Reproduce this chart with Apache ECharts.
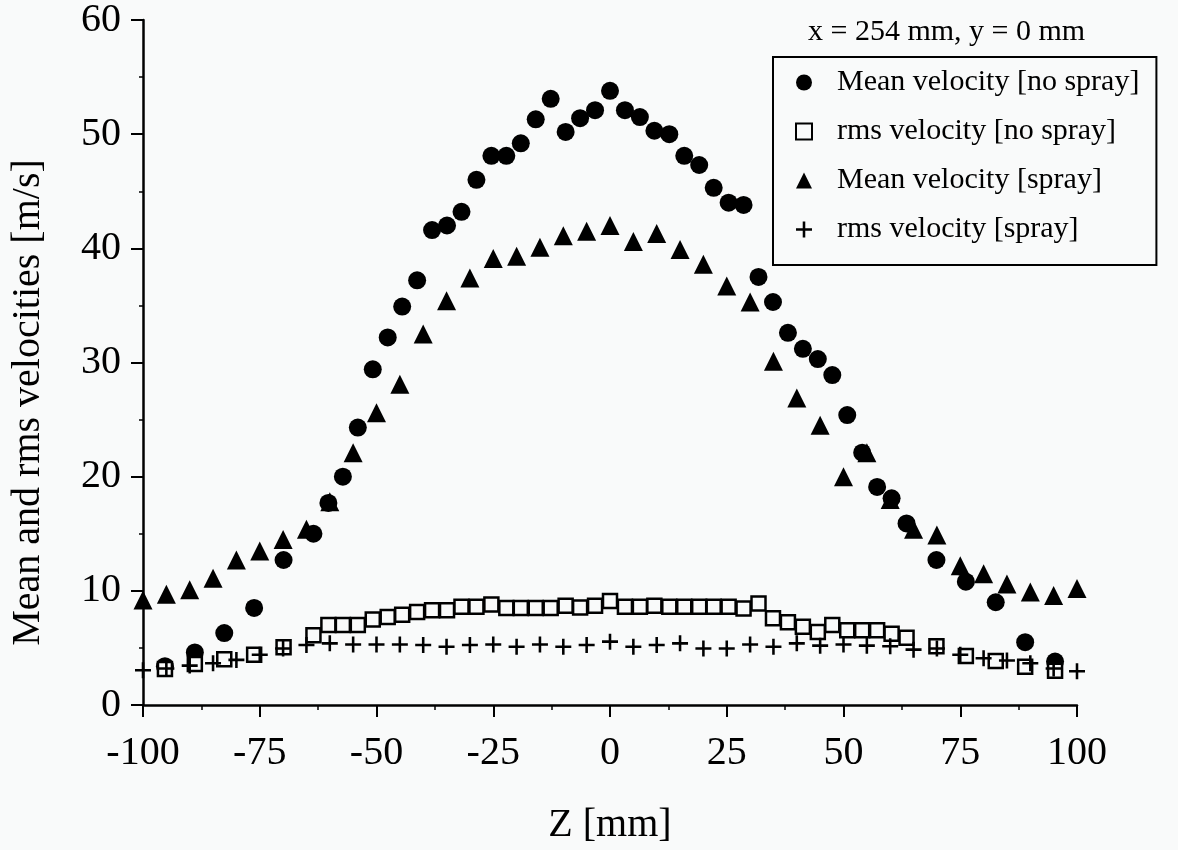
<!DOCTYPE html>
<html><head><meta charset="utf-8">
<script src="https://cdn.jsdelivr.net/npm/echarts@6/dist/echarts.min.js"></script>
<style>html,body{margin:0;padding:0;background:#f9fafa}#c{width:1178px;height:850px}</style>
</head><body><div id="c"></div>
<script>
// Z positions of the [no spray] measurements (mm)
const zNoSpray = [-95.3,-88.9,-82.6,-76.2,-69.9,-63.5,-60.3,-57.2,-54.0,-50.8,-47.6,-44.5,-41.3,-38.1,-34.9,-31.8,-28.6,-25.4,-22.2,-19.1,-15.9,-12.7,-9.5,-6.4,-3.2,0,3.2,6.4,9.5,12.7,15.9,19.1,22.2,25.4,28.6,31.8,34.9,38.1,41.3,44.5,47.6,50.8,54.0,57.2,60.3,63.5,69.9,76.2,82.6,88.9,95.3];
const meanNoSpray = [3.4,4.6,6.3,8.5,12.7,15.0,17.7,20.0,24.3,29.4,32.2,34.9,37.2,41.6,42.0,43.2,46.0,48.1,48.1,49.2,51.3,53.1,50.2,51.4,52.1,53.8,52.1,51.5,50.3,50.0,48.1,47.3,45.3,44.0,43.8,37.5,35.3,32.6,31.2,30.3,28.9,25.4,22.1,19.1,18.1,15.9,12.7,10.8,9.0,5.5,3.8];
const rmsNoSpray = [3.15,3.6,4.0,4.4,5.05,6.1,7.0,7.0,7.0,7.5,7.7,7.9,8.15,8.3,8.3,8.6,8.6,8.8,8.5,8.5,8.5,8.5,8.7,8.55,8.7,9.1,8.6,8.6,8.7,8.6,8.6,8.6,8.6,8.6,8.45,8.9,7.6,7.25,6.85,6.4,7.0,6.55,6.55,6.55,6.25,5.9,5.15,4.3,3.85,3.35,3.0];
// Z positions of the [spray] measurements (mm)
const zSpray = [-100,-95,-90,-85,-80,-75,-70,-65,-60,-55,-50,-45,-40,-35,-30,-25,-20,-15,-10,-5,0,5,10,15,20,25,30,35,40,45,50,55,60,65,70,75,80,85,90,95,100];
const meanSpray = [9.2,9.7,10.1,11.1,12.7,13.5,14.5,15.4,17.8,22.1,25.6,28.1,32.5,35.4,37.4,39.1,39.3,40.1,41.1,41.5,42.0,40.6,41.3,39.9,38.6,36.7,35.3,30.1,26.9,24.5,20.0,22.1,18.0,15.4,14.9,12.2,11.5,10.6,9.9,9.6,10.2];
const rmsSpray = [3.05,3.2,3.45,3.65,3.95,4.4,4.95,5.25,5.4,5.3,5.3,5.3,5.25,5.1,5.25,5.3,5.1,5.3,5.1,5.25,5.55,5.1,5.25,5.4,4.95,4.95,5.3,5.1,5.4,5.2,5.3,5.2,5.15,4.85,4.95,4.4,4.1,3.9,3.65,3.2,2.95];
const seriesNames = ['Mean velocity [no spray]','rms velocity [no spray]','Mean velocity [spray]','rms velocity [spray]'];
const xTicks = {min:-100, max:100, step:25};
const yTicks = {min:0, max:60, step:10};
const titleText = 'x = 254 mm, y = 0 mm';
const xName = 'Z [mm]';
const yName = 'Mean and rms velocities [m/s]';

const FONT = 'Liberation Serif';
const BG = '#f9fafa';
const plusPath = 'path://M0.42,0 L0.58,0 L0.58,0.42 L1,0.42 L1,0.58 L0.58,0.58 L0.58,1 L0.42,1 L0.42,0.58 L0,0.58 L0,0.42 L0.42,0.42 Z';
const pair = (xs, ys) => xs.map((x, i) => [x, ys[i]]);

const chart = echarts.init(document.getElementById('c'), null, {renderer: 'canvas'});
chart.setOption({
  backgroundColor: BG,
  animation: false,
  title: {
    text: titleText, left: 803, top: 12,
    textStyle: {fontFamily: FONT, fontSize: 30, fontWeight: 'normal', color: '#000'}
  },
  legend: {
    orient: 'vertical', left: 773, top: 57,
    padding: [8, 17, 18, 22], itemGap: 14,
    itemWidth: 16, itemHeight: 16,
    borderColor: '#000', borderWidth: 2,
    textStyle: {fontFamily: FONT, fontSize: 30, color: '#000', lineHeight: 35, padding: [0, 0, 0, 20]},
    data: [
      {name: seriesNames[0], icon: 'circle'},
      {name: seriesNames[1], icon: 'rect', itemStyle: {color: BG, borderColor: '#000', borderWidth: 2}},
      {name: seriesNames[2], icon: 'triangle'},
      {name: seriesNames[3], icon: plusPath}
    ]
  },
  grid: {left: 143, right: 101, top: 20, bottom: 143},
  xAxis: {
    type: 'value', min: xTicks.min, max: xTicks.max, interval: xTicks.step,
    name: xName, nameLocation: 'middle', nameGap: 100,
    nameTextStyle: {fontFamily: FONT, fontSize: 40, color: '#000'},
    axisLine: {show: true, onZero: false, lineStyle: {color: '#000', width: 2.5}},
    axisTick: {show: true, inside: false, length: 12, lineStyle: {color: '#000', width: 2}},
    minorTick: {show: true, splitNumber: 2, length: 5, lineStyle: {color: '#000', width: 1.5}},
    splitLine: {show: false},
    axisLabel: {fontFamily: FONT, fontSize: 40, color: '#000', margin: 28}
  },
  yAxis: {
    type: 'value', min: yTicks.min, max: yTicks.max, interval: yTicks.step,
    name: yName, nameLocation: 'middle', nameGap: 95, nameRotate: 90,
    nameTextStyle: {fontFamily: FONT, fontSize: 40, color: '#000', padding: [0, 80, 0, 0]},
    axisLine: {show: true, onZero: false, lineStyle: {color: '#000', width: 2.5}},
    axisTick: {show: true, inside: false, length: 12, lineStyle: {color: '#000', width: 2}},
    minorTick: {show: true, splitNumber: 2, length: 4, lineStyle: {color: '#000', width: 1.5}},
    splitLine: {show: false},
    axisLabel: {fontFamily: FONT, fontSize: 40, color: '#000', margin: 22}
  },
  series: [
    {name: seriesNames[0], type: 'scatter', symbol: 'circle', symbolSize: 18, z: 2,
      itemStyle: {color: '#000', opacity: 1}, data: pair(zNoSpray, meanNoSpray)},
    {name: seriesNames[2], type: 'scatter', symbol: 'triangle', symbolSize: 19, z: 3,
      itemStyle: {color: '#000', opacity: 1}, data: pair(zSpray, meanSpray)},
    {name: seriesNames[1], type: 'scatter', symbol: 'rect', symbolSize: 14, z: 4,
      itemStyle: {color: BG, borderColor: '#000', borderWidth: 2.5, opacity: 1}, data: pair(zNoSpray, rmsNoSpray)},
    {name: seriesNames[3], type: 'scatter', symbol: plusPath, symbolSize: 16, z: 5,
      itemStyle: {color: '#000', opacity: 1}, data: pair(zSpray, rmsSpray)}
  ]
});
</script></body></html>
